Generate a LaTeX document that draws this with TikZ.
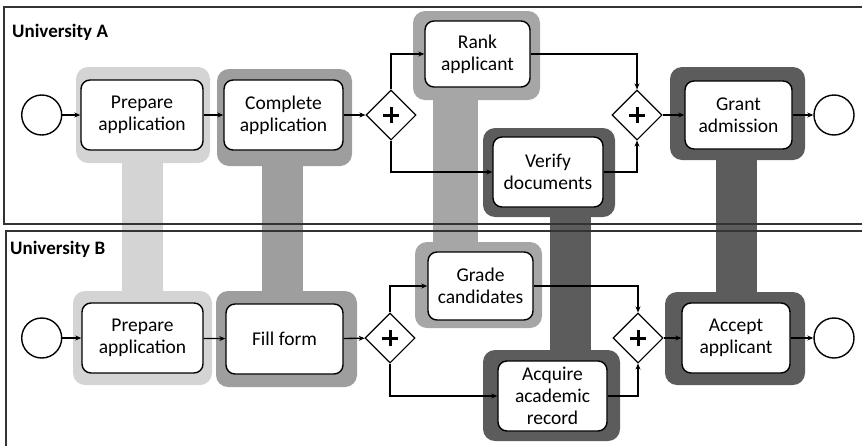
\documentclass[tikz,border=0pt]{standalone}
\usepackage{fontspec}
\setmainfont{Carlito}
\usetikzlibrary{shapes.geometric,arrows.meta}

\definecolor{lightshade}{gray}{0.83}
\definecolor{midshade}{gray}{0.62}
\definecolor{rankshade}{gray}{0.65}
\definecolor{darkshade}{gray}{0.36}

\tikzset{
  task/.style={draw, line width=1.4pt, rounded corners=9pt, fill=white,
    align=center, inner sep=2pt, font=\fontsize{19.5}{22.3}\selectfont},
  event/.style={circle, draw, line width=1.4pt, minimum size=40pt,
    inner sep=0pt, fill=white},
  gateway/.style={diamond, draw, line width=1.1pt, minimum size=50pt,
    inner sep=0pt, fill=white,
    path picture={
      \draw[line width=3pt] ([xshift=-8pt]path picture bounding box.center)
        -- ([xshift=8pt]path picture bounding box.center);
      \draw[line width=3pt] ([yshift=-8pt]path picture bounding box.center)
        -- ([yshift=8pt]path picture bounding box.center);
    }},
  flow/.style={line width=1.3pt, -{Stealth[length=6pt,width=5pt]}},
  lane/.style={draw=black!80, line width=1.3pt},
  lanelabel/.style={font=\bfseries\fontsize{19}{21}\selectfont,
    anchor=west, inner sep=0pt},
  halo/.style={rounded corners=12pt},
}

\begin{document}
\begin{tikzpicture}[x=1pt, y=-1pt]
        \useasboundingbox (0,0) rectangle (862,445);

        % shaded halos round matching tasks
        \begin{scope}
            \fill[halo, lightshade] (76,67) rectangle (210,163);
            \fill[halo, lightshade] (73,291) rectangle (212,385);
            \fill[lightshade] (122,160) rectangle (163,295);

            \fill[halo, midshade] (217,69) rectangle (352,166);
            \fill[halo, midshade] (216,291) rectangle (357,387);
            \fill[midshade] (262,160) rectangle (303,295);

            \fill[halo, rankshade] (413,11) rectangle (540,100);
            \fill[halo, rankshade] (415,242) rectangle (542,328);
            \fill[rankshade] (433,95) rectangle (478,246);

            \fill[halo, darkshade] (483,128) rectangle (615,217);
            \fill[halo, darkshade] (483,350) rectangle (620,441);
            \fill[darkshade] (550,210) rectangle (591,355);

            \fill[halo, darkshade] (670,67) rectangle (805,160);
            \fill[halo, darkshade] (665,292) rectangle (805,385);
            \fill[darkshade] (716,155) rectangle (757,297);
        \end{scope}

        % pools
        \draw[lane] (4,7) rectangle (870,224);
        \draw[lane] (6,231) rectangle (870,452);
        \node[lanelabel] (labA) at (12,32) {University A};
        \node[lanelabel] (labB) at (10,249) {University B};

        % University A
        \node[event] (startA) at (41.7,115) {};
        \node[task, minimum width=122pt, minimum height=70pt] (prepA) at (142,115) {Prepare\\application};
        \node[task, minimum width=119pt, minimum height=70pt] (compA) at (283.5,115) {Complete\\application};
        \node[gateway] (splitA) at (391,115) {};
        \node[task, minimum width=105pt, minimum height=66pt] (rankA) at (477.5,54) {Rank\\applicant};
        \node[task, minimum width=110pt, minimum height=70pt] (verA) at (548,172) {Verify\\documents};
        \node[gateway] (joinA) at (637,115) {};
        \node[task, minimum width=107pt, minimum height=68pt] (grantA) at (738.5,115) {Grant\\admission};
        \node[event] (endA) at (834,115) {};

        \draw[flow] (startA) -- (prepA);
        \draw[flow] (prepA) -- (compA);
        \draw[flow] (compA) -- (splitA);
        \draw[flow] (splitA.north) |- (rankA.west);
        \draw[flow] (splitA.south) |- (verA.west);
        \draw[flow] (rankA.east) -| (joinA.north);
        \draw[flow] (verA.east) -| (joinA.south);
        \draw[flow] (joinA) -- (grantA);
        \draw[flow] (grantA) -- (endA);

        % University B
        \node[event] (startB) at (41.7,338) {};
        \node[task, minimum width=121pt, minimum height=70pt] (prepB) at (142.5,338) {Prepare\\application};
        \node[task, minimum width=117pt, minimum height=70pt] (fillB) at (284.5,339) {Fill form};
        \node[gateway] (splitB) at (390,338) {};
        \node[task, minimum width=105pt, minimum height=68pt] (gradeB) at (480.5,286) {Grade\\candidates};
        \node[task, minimum width=109pt, minimum height=70pt] (acqB) at (552.5,396) {Acquire\\academic\\record};
        \node[gateway] (joinB) at (638,338) {};
        \node[task, minimum width=108pt, minimum height=70pt] (acceptB) at (736,338) {Accept\\applicant};
        \node[event] (endB) at (834,338) {};

        \draw[flow] (startB) -- (prepB);
        \draw[flow] (prepB) -- (fillB);
        \draw[flow] (fillB) -- (splitB);
        \draw[flow] (splitB.north) |- (gradeB.west);
        \draw[flow] (splitB.south) |- (acqB.west);
        \draw[flow] (gradeB.east) -| (joinB.north);
        \draw[flow] (acqB.east) -| (joinB.south);
        \draw[flow] (joinB) -- (acceptB);
        \draw[flow] (acceptB) -- (endB);
    \end{tikzpicture}
\end{document}
